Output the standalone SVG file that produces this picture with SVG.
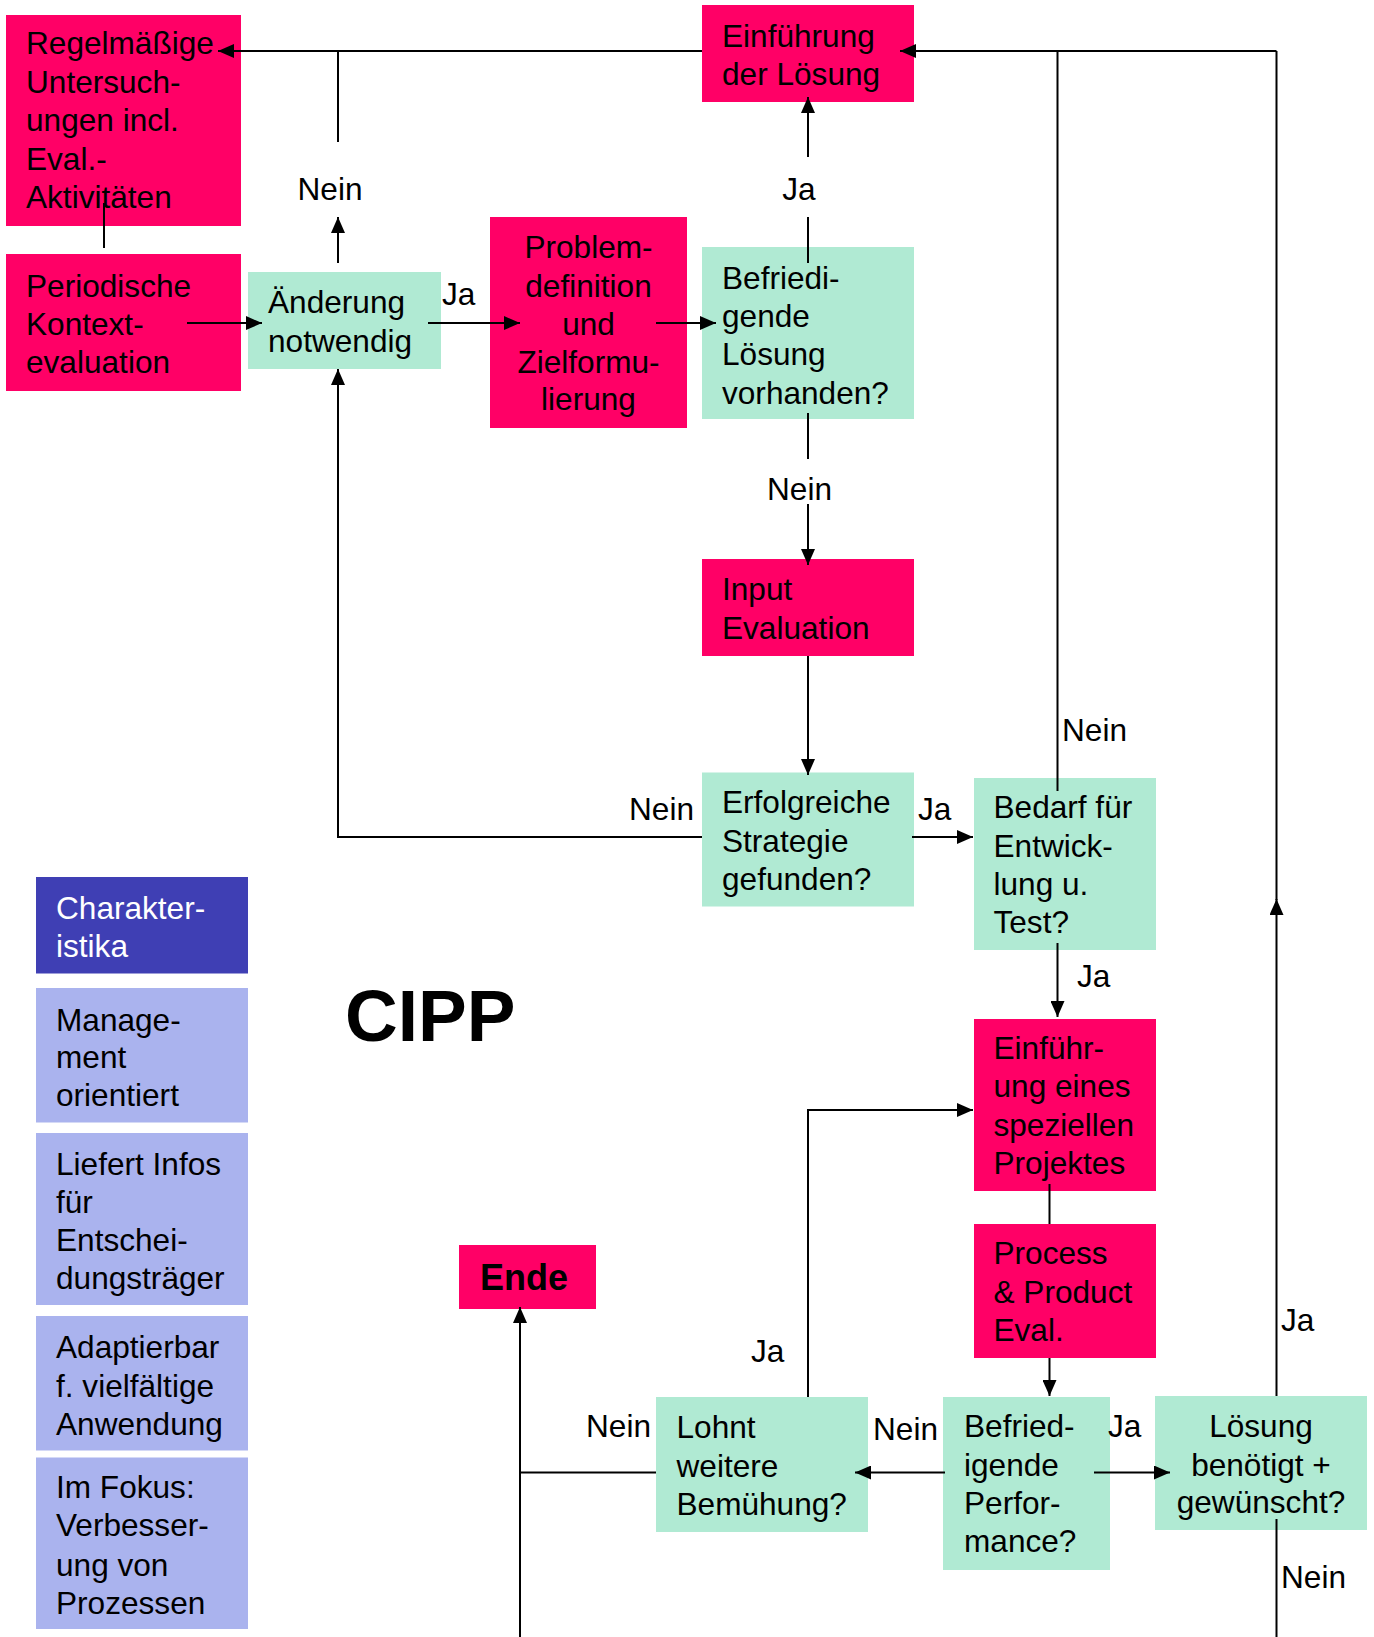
<svg xmlns="http://www.w3.org/2000/svg" width="1374" height="1637" viewBox="0 0 1374 1637">
<style>
text{font-family:"Liberation Sans",Arial,sans-serif;font-size:31.6px;fill:#000}
.m{fill:#FF0066}
.g{fill:#B0EAD3}
.b{fill:#3F3FB4}
.l{fill:#AAB3EE}
.w{fill:#fff}
.c{text-anchor:middle}
.e{text-anchor:end}
.ln{fill:none;stroke:#000;stroke-width:2}
.a{marker-end:url(#ah)}
</style>
<defs>
<marker id="ah" viewBox="0 0 16 14" refX="16" refY="7" markerWidth="16" markerHeight="14" markerUnits="userSpaceOnUse" orient="auto">
<path d="M0,0 L16,7 L0,14 z" fill="#000"/>
</marker>
</defs>
<rect width="1374" height="1637" fill="#fff"/>

<g id="regelmaessige">
<rect class="m" x="6" y="15" width="235" height="211"/>
<text x="26" y="54">Regelmäßige</text>
<text x="26" y="92.5">Untersuch-</text>
<text x="26" y="131">ungen incl.</text>
<text x="26" y="169.5">Eval.-</text>
<text x="26" y="208">Aktivitäten</text>
</g>
<g id="periodische">
<rect class="m" x="6" y="254" width="235" height="137"/>
<text x="26" y="297">Periodische</text>
<text x="26" y="335">Kontext-</text>
<text x="26" y="373">evaluation</text>
</g>
<g id="aenderung">
<rect class="g" x="248" y="272" width="193" height="97"/>
<text x="268" y="313">Änderung</text>
<text x="268" y="352">notwendig</text>
</g>
<g id="problem">
<rect class="m" x="490" y="217" width="197" height="211"/>
<text class="c" x="588.5" y="258">Problem-</text>
<text class="c" x="588.5" y="297">definition</text>
<text class="c" x="588.5" y="335">und</text>
<text class="c" x="588.5" y="373">Zielformu-</text>
<text class="c" x="588.5" y="410">lierung</text>
</g>
<g id="einfuehrung-loesung">
<rect class="m" x="702" y="5" width="212" height="97"/>
<text x="722" y="47">Einführung</text>
<text x="722" y="85">der Lösung</text>
</g>
<g id="befriedigende-loesung">
<rect class="g" x="702" y="247" width="212" height="172"/>
<text x="722" y="289">Befriedi-</text>
<text x="722" y="327">gende</text>
<text x="722" y="365">Lösung</text>
<text x="722" y="404">vorhanden?</text>
</g>
<g id="input">
<rect class="m" x="702" y="559" width="212" height="97"/>
<text x="722" y="600">Input</text>
<text x="722" y="638.5">Evaluation</text>
</g>
<g id="erfolgreiche">
<rect class="g" x="702" y="772.5" width="212" height="134"/>
<text x="722" y="813">Erfolgreiche</text>
<text x="722" y="852">Strategie</text>
<text x="722" y="889.5">gefunden?</text>
</g>
<g id="bedarf">
<rect class="g" x="974" y="778" width="182" height="172"/>
<text x="993.5" y="818">Bedarf für</text>
<text x="993.5" y="857">Entwick-</text>
<text x="993.5" y="895">lung u.</text>
<text x="993.5" y="932.5">Test?</text>
</g>
<g id="einfuehrung-projekt">
<rect class="m" x="974" y="1019" width="182" height="172"/>
<text x="993.5" y="1059">Einführ-</text>
<text x="993.5" y="1097">ung eines</text>
<text x="993.5" y="1136">speziellen</text>
<text x="993.5" y="1174">Projektes</text>
</g>
<g id="process-product">
<rect class="m" x="974" y="1224" width="182" height="134"/>
<text x="993.5" y="1264">Process</text>
<text x="993.5" y="1303">&amp; Product</text>
<text x="993.5" y="1341">Eval.</text>
</g>
<g id="befriedigende-performance">
<rect class="g" x="943" y="1397" width="167" height="173"/>
<text x="964" y="1437">Befried-</text>
<text x="964" y="1476">igende</text>
<text x="964" y="1514">Perfor-</text>
<text x="964" y="1552">mance?</text>
</g>
<g id="loesung-benoetigt">
<rect class="g" x="1155" y="1396" width="212" height="134"/>
<text class="c" x="1261" y="1437">Lösung</text>
<text class="c" x="1261" y="1476">benötigt +</text>
<text class="c" x="1261" y="1513">gewünscht?</text>
</g>
<g id="lohnt">
<rect class="g" x="656" y="1397" width="212" height="135"/>
<text x="676.5" y="1438">Lohnt</text>
<text x="676.5" y="1477">weitere</text>
<text x="676.5" y="1515">Bemühung?</text>
</g>
<g id="ende">
<rect class="m" x="459" y="1245" width="137" height="64"/>
<text x="480" y="1290" style="font-weight:bold;font-size:36px">Ende</text>
</g>
<g id="cipp-title">
<text x="345" y="1041" style="font-weight:bold;font-size:73px">CIPP</text>
</g>
<g id="charakteristika">
<rect class="b" x="36" y="877" width="212" height="96.5"/>
<text class="w" x="56" y="919">Charakter-</text>
<text class="w" x="56" y="956.5">istika</text>
</g>
<g id="management">
<rect class="l" x="36" y="988" width="212" height="134.5"/>
<text x="56" y="1031">Manage-</text>
<text x="56" y="1068">ment</text>
<text x="56" y="1106">orientiert</text>
</g>
<g id="liefert">
<rect class="l" x="36" y="1133" width="212" height="172"/>
<text x="56" y="1174.5">Liefert Infos</text>
<text x="56" y="1212.5">für</text>
<text x="56" y="1251">Entschei-</text>
<text x="56" y="1288.5">dungsträger</text>
</g>
<g id="adaptierbar">
<rect class="l" x="36" y="1316" width="212" height="134.5"/>
<text x="56" y="1358">Adaptierbar</text>
<text x="56" y="1396.5">f. vielfältige</text>
<text x="56" y="1434.5">Anwendung</text>
</g>
<g id="fokus">
<rect class="l" x="36" y="1457.5" width="212" height="171.5"/>
<text x="56" y="1497.5">Im Fokus:</text>
<text x="56" y="1536">Verbesser-</text>
<text x="56" y="1575.5">ung von</text>
<text x="56" y="1614">Prozessen</text>
</g>

<g id="connectors">
<path class="ln a" d="M702,51 L218,51"/>
<path class="ln a" d="M338,263 L338,217"/>
<path class="ln" d="M338,142 L338,51"/>
<path class="ln" d="M104,203 L104,248"/>
<path class="ln a" d="M187,323 L262,323"/>
<path class="ln a" d="M428,323 L520,323"/>
<path class="ln a" d="M656,323 L716,323"/>
<path class="ln" d="M808,263 L808,217"/>
<path class="ln a" d="M808,157 L808,97"/>
<path class="ln" d="M808,413 L808,459"/>
<path class="ln a" d="M808,504 L808,565"/>
<path class="ln a" d="M808,656 L808,775"/>
<path class="ln a" d="M702,837 L338,837 L338,369"/>
<path class="ln a" d="M912,837 L973,837"/>
<path class="ln" d="M1057.5,791 L1057.5,51"/>
<path class="ln a" d="M1276.5,51 L900,51"/>
<path class="ln a" d="M1057.5,943 L1057.5,1017"/>
<path class="ln" d="M1049.5,1184 L1049.5,1224"/>
<path class="ln a" d="M1049.5,1358 L1049.5,1396"/>
<path class="ln a" d="M945,1472.5 L855,1472.5"/>
<path class="ln a" d="M1094,1472.5 L1170,1472.5"/>
<path class="ln a" d="M1276.5,1396 L1276.5,899"/>
<path class="ln" d="M1276.5,900 L1276.5,51"/>
<path class="ln" d="M1276.5,1519 L1276.5,1637"/>
<path class="ln a" d="M808,1397 L808,1110 L973,1110"/>
<path class="ln" d="M656,1472.5 L520,1472.5"/>
<path class="ln a" d="M520,1637 L520,1307"/>
<text class="c" x="330" y="200">Nein</text>
<text x="442" y="305">Ja</text>
<text class="c" x="799" y="200">Ja</text>
<text class="c" x="799.5" y="500">Nein</text>
<text class="e" x="694" y="820">Nein</text>
<text x="918" y="820">Ja</text>
<text x="1062" y="741">Nein</text>
<text x="1077" y="987">Ja</text>
<text x="873" y="1440">Nein</text>
<text x="1108" y="1437">Ja</text>
<text x="1281" y="1331">Ja</text>
<text x="1281" y="1588">Nein</text>
<text x="751" y="1362">Ja</text>
<text x="586" y="1437">Nein</text>
</g>
</svg>
